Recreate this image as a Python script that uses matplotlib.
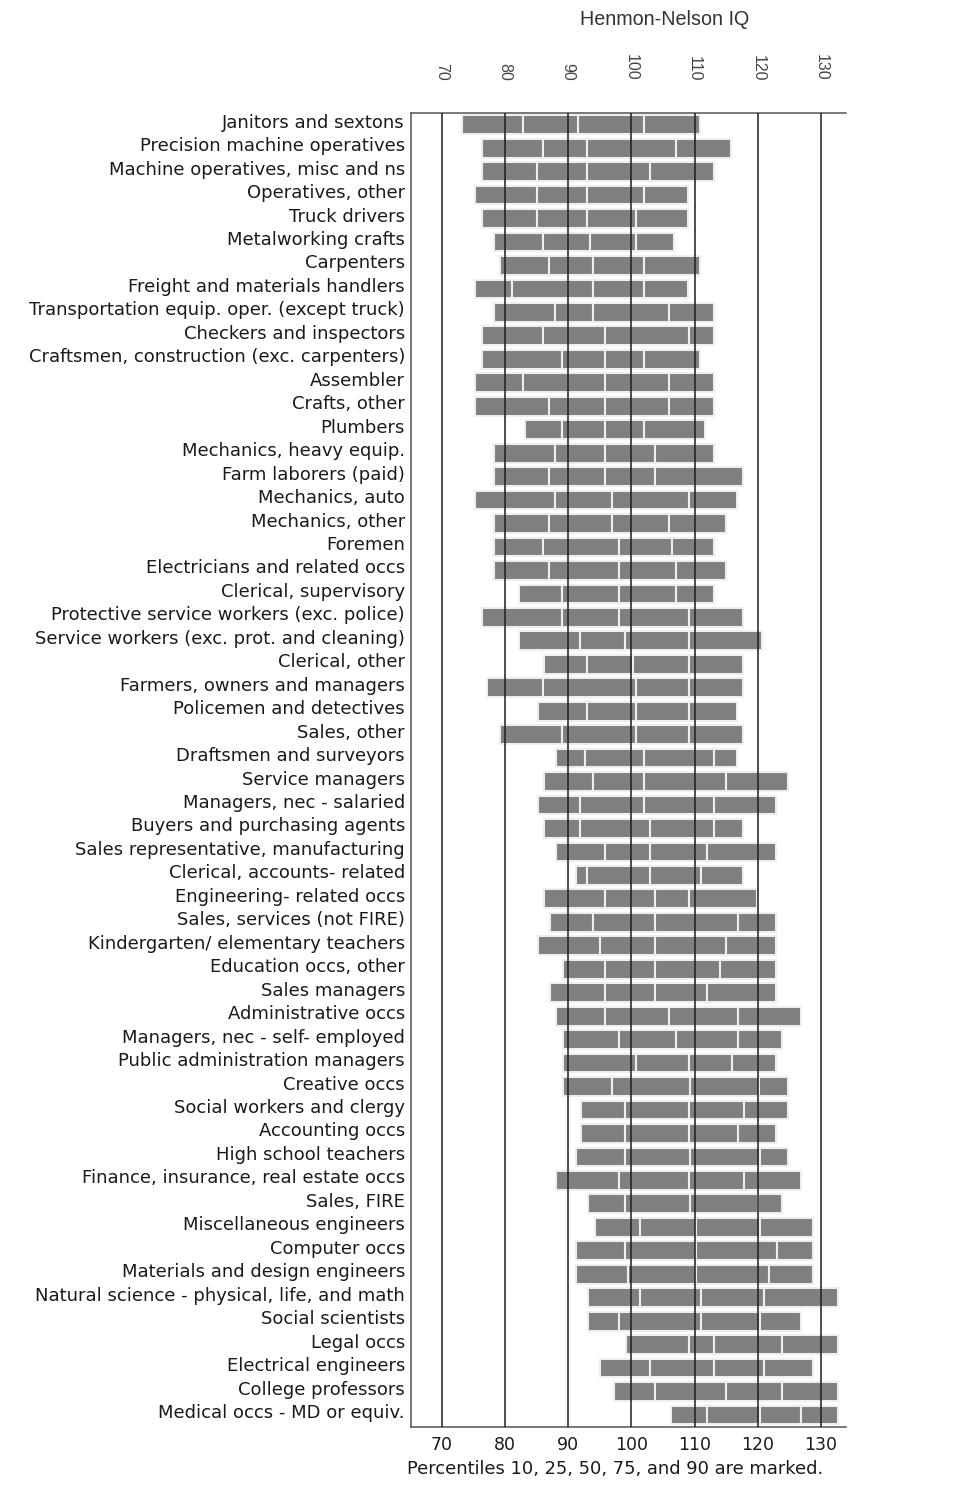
import matplotlib
matplotlib.use('Agg')
import matplotlib.pyplot as plt
import matplotlib.transforms as mtransforms
import numpy as np

# Henmon-Nelson IQ percentiles by occupation (10, 25, 50, 75, 90)
occupations = [
    'Janitors and sextons',
    'Precision machine operatives',
    'Machine operatives, misc and ns',
    'Operatives, other',
    'Truck drivers',
    'Metalworking crafts',
    'Carpenters',
    'Freight and materials handlers',
    'Transportation equip. oper. (except truck)',
    'Checkers and inspectors',
    'Craftsmen, construction (exc. carpenters)',
    'Assembler',
    'Crafts, other',
    'Plumbers',
    'Mechanics, heavy equip.',
    'Farm laborers (paid)',
    'Mechanics, auto',
    'Mechanics, other',
    'Foremen',
    'Electricians and related occs',
    'Clerical, supervisory',
    'Protective service workers (exc. police)',
    'Service workers (exc. prot. and cleaning)',
    'Clerical, other',
    'Farmers, owners and managers',
    'Policemen and detectives',
    'Sales, other',
    'Draftsmen and surveyors',
    'Service managers',
    'Managers, nec - salaried',
    'Buyers and purchasing agents',
    'Sales representative, manufacturing',
    'Clerical, accounts- related',
    'Engineering- related occs',
    'Sales, services (not FIRE)',
    'Kindergarten/ elementary teachers',
    'Education occs, other',
    'Sales managers',
    'Administrative occs',
    'Managers, nec - self- employed',
    'Public administration managers',
    'Creative occs',
    'Social workers and clergy',
    'Accounting occs',
    'High school teachers',
    'Finance, insurance, real estate occs',
    'Sales, FIRE',
    'Miscellaneous engineers',
    'Computer occs',
    'Materials and design engineers',
    'Natural science - physical, life, and math',
    'Social scientists',
    'Legal occs',
    'Electrical engineers',
    'College professors',
    'Medical occs - MD or equiv.',
]

p10 = [73.2, 76.3, 76.3, 75.2, 76.3, 78.2, 79.2, 75.2, 78.2, 76.3,
       76.3, 75.2, 75.2, 83.1, 78.2, 78.2, 75.2, 78.2, 78.2, 78.2,
       82.2, 76.3, 82.2, 86.2, 77.2, 85.3, 79.2, 88.1, 86.2, 85.3,
       86.2, 88.1, 91.2, 86.2, 87.1, 85.3, 89.2, 87.1, 88.1, 89.2,
       89.2, 89.2, 92.1, 92.1, 91.2, 88.1, 93.2, 94.2, 91.2, 91.2,
       93.2, 93.2, 99.1, 95.1, 97.2, 106.2]
p25 = [82.9, 86.0, 85.1, 85.1, 85.1, 86.0, 86.9, 81.1, 87.9, 86.0,
       89.1, 82.9, 86.9, 89.1, 87.9, 86.9, 87.9, 86.9, 86.0, 86.9,
       89.1, 89.1, 91.9, 93.0, 86.0, 93.0, 89.1, 92.7, 94.0, 91.9,
       91.9, 95.9, 93.0, 95.9, 94.0, 95.0, 95.9, 95.9, 95.9, 98.0,
       100.8, 97.0, 99.0, 99.0, 99.0, 98.0, 99.0, 101.4, 99.0, 99.5,
       101.4, 98.0, 109.1, 102.9, 103.8, 111.9]
p50 = [91.5, 93.0, 93.0, 93.0, 93.0, 93.5, 94.0, 94.0, 94.0, 95.9,
       95.9, 95.9, 95.9, 95.9, 95.9, 95.9, 97.0, 97.0, 98.0, 98.0,
       98.0, 98.0, 99.0, 100.3, 100.8, 100.8, 100.8, 102.0, 102.0, 102.0,
       102.9, 102.9, 102.9, 103.8, 103.8, 103.8, 103.8, 103.8, 106.0, 107.0,
       109.1, 109.3, 109.1, 109.1, 109.3, 109.1, 109.2, 110.2, 110.3, 110.2,
       111.0, 111.0, 113.1, 113.1, 115.0, 120.3]
p75 = [102.0, 107.0, 102.9, 102.0, 100.8, 100.8, 102.0, 102.0, 106.0, 109.1,
       102.0, 106.0, 106.0, 102.0, 103.8, 103.8, 109.1, 106.0, 106.5, 107.0,
       107.0, 109.1, 109.1, 109.1, 109.1, 109.1, 109.1, 113.1, 115.0, 113.1,
       113.1, 111.9, 111.0, 109.1, 116.8, 115.0, 114.0, 111.9, 116.8, 116.8,
       115.9, 120.2, 117.8, 116.8, 120.3, 117.8, 120.1, 120.4, 123.0, 121.8,
       120.9, 120.3, 123.9, 120.9, 123.9, 126.9]
p90 = [110.9, 115.8, 113.0, 108.9, 108.9, 106.8, 110.9, 108.9, 113.0, 113.0,
       110.9, 113.0, 113.0, 111.7, 113.0, 117.7, 116.7, 114.9, 113.0, 114.9,
       113.0, 117.7, 120.7, 117.7, 117.7, 116.7, 117.7, 116.7, 124.7, 122.8,
       117.7, 122.8, 117.7, 119.8, 122.8, 122.8, 122.8, 122.8, 126.8, 123.8,
       122.8, 124.7, 124.7, 122.8, 124.7, 126.8, 123.8, 128.7, 128.7, 128.7,
       132.7, 126.8, 132.7, 128.7, 132.7, 132.7]

iq_ticks = [70, 80, 90, 100, 110, 120, 130]

BAR_COLOR = '#7f7f7f'
GAP_COLOR = '#eeeeee'
LINE_COLOR = '#1e1e1e'

fig = plt.figure(figsize=(9.7, 14.92), dpi=100)
ax = fig.add_axes([0.4232, 0.04377, 0.449, 0.8805])

y = np.arange(len(occupations))
pct = np.array([p10, p25, p50, p75, p90])

# one segment per inter-percentile range; the light edges form the markers
for i in range(4):
    ax.barh(y, pct[i + 1] - pct[i], left=pct[i], height=0.8,
            color=BAR_COLOR, edgecolor=GAP_COLOR, linewidth=1.5, zorder=2)

for t in iq_ticks:
    ax.axvline(t, color=LINE_COLOR, lw=1.1, zorder=3)

ax.set_xlim(65.07, 133.95)
ax.set_ylim(len(occupations) - 0.5, -0.5)

ax.set_yticks(y)
ax.set_yticklabels(occupations, fontsize=13, color='#1a1a1a',
                   family='DejaVu Sans')
ax.set_xticks(iq_ticks)
ax.set_xticklabels([str(t) for t in iq_ticks], fontsize=12.5,
                   color='#1a1a1a', family='DejaVu Sans')
ax.tick_params(axis='y', length=0, pad=4)
ax.tick_params(axis='x', length=0, pad=7)

# category labels sit a few pixels above their bars
lift = mtransforms.ScaledTranslation(0, 4 / 100, fig.dpi_scale_trans)
for lab in ax.get_yticklabels():
    lab.set_transform(lab.get_transform() + lift)

for side in ('top', 'bottom', 'left'):
    ax.spines[side].set_color('#555555')
    ax.spines[side].set_linewidth(1.1)
ax.spines['right'].set_visible(False)

top = ax.secondary_xaxis('top')
top.set_xticks(iq_ticks)
top.set_xticklabels([str(t) for t in iq_ticks], rotation=270,
                    fontsize=11.5, color='#444444', family='Liberation Sans')
top.tick_params(length=0, pad=23)
top.spines['top'].set_visible(False)

fig.text(0.6856, 0.9866, 'Henmon-Nelson IQ', ha='center', va='center',
         fontsize=14.2, color='#333333', family='Liberation Sans')
fig.text(0.6345, 0.0154, 'Percentiles 10, 25, 50, 75, and 90 are marked.',
         ha='center', va='center', fontsize=12.9, color='#1a1a1a',
         family='DejaVu Sans')

fig.savefig('out.png', dpi=100)
plt.close(fig)
